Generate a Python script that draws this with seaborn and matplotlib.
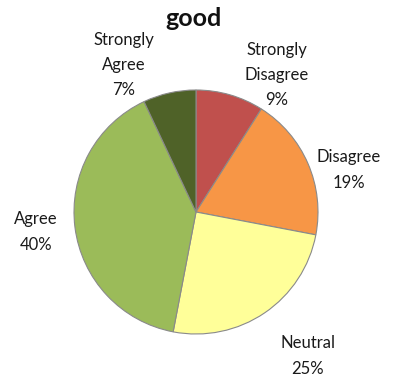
import matplotlib
matplotlib.use("Agg")
import matplotlib.pyplot as plt
import seaborn as sns

categories = ["Strongly Disagree", "Disagree", "Neutral", "Agree", "Strongly Agree"]
percents = [9, 19, 25, 40, 7]
label_texts = ["Strongly\nDisagree\n9%", "Disagree\n19%", "Neutral\n25%", "Agree\n40%", "Strongly\nAgree\n7%"]
colors = ["#C0504D", "#F79646", "#FFFF99", "#9BBB59", "#4F6228"]
title = "good"

sns.set_style("white")
plt.rcParams["font.family"] = ["Lato", "DejaVu Sans"]

W, H = 396, 377
fig = plt.figure(figsize=(W / 100, H / 100), dpi=100)
ax = fig.add_axes([0, 0, 1, 1])

cx, cy, r = 196, H - 212, 122
ax.pie(percents, colors=colors, startangle=90, counterclock=False,
       center=(cx, cy), radius=r, frame=True,
       wedgeprops=dict(edgecolor="#8a8a8a", linewidth=0.8))
ax.set_xlim(0, W)
ax.set_ylim(0, H)
ax.set_aspect("equal")
ax.axis("off")

label_pos = [(277, 75), (349, 170), (308, 356), (36, 232), (124, 65)]
for txt, (x, y) in zip(label_texts, label_pos):
    ax.text(x, H - y, txt, ha="center", va="center", fontsize=12,
            linespacing=1.72, color="#1a1a1a")

ax.text(194, H - 19, title, ha="center", va="center", fontsize=18,
        fontweight="bold", color="#111111")

fig.savefig("out.png", dpi=100)
